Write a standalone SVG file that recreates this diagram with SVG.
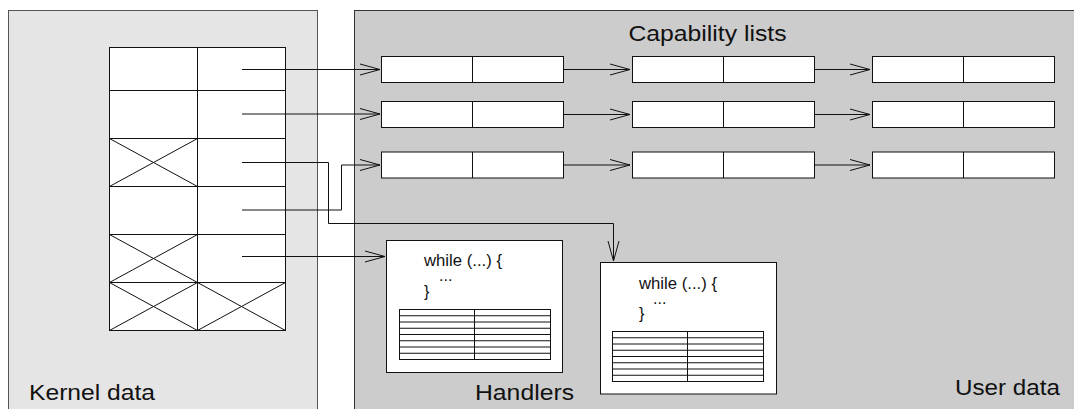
<svg xmlns="http://www.w3.org/2000/svg" width="1074" height="409" viewBox="0 0 1074 409">
  <style>
    .panel-k { fill: #e5e5e5; stroke: #555; stroke-width: 1; }
    .panel-u { fill: #cccccc; stroke: #333; stroke-width: 1; }
    .cell { fill: #fff; stroke: #111; stroke-width: 1; }
    .ln { fill: none; stroke: #111; stroke-width: 1; }
    .conn { fill: none; stroke: #111; stroke-width: 1; marker-end: url(#open); }
    .label { font-family: "Liberation Sans", Arial, sans-serif; font-size: 22px; fill: #111; }
    .code { font-family: "Liberation Sans", Arial, sans-serif; font-size: 16px; fill: #111; }
  </style>
  <defs>
    <marker id="open" markerUnits="userSpaceOnUse" markerWidth="24" markerHeight="14" viewBox="-21 -7 22 14" refX="0" refY="0" orient="auto" overflow="visible">
      <path d="M-20,-5.5 L0,0 L-20,5.5" fill="none" stroke="#111" stroke-width="1"/>
    </marker>
    <!-- table of 8 rows used inside each handler -->
    <g id="handler-table">
      <rect x="0" y="0" width="151" height="50" class="cell"/>
      <path class="ln" d="M75,0 V50 M0,6.25 H151 M0,12.5 H151 M0,18.75 H151 M0,25 H151 M0,31.25 H151 M0,37.5 H151 M0,43.75 H151"/>
    </g>
    <g id="cap-entry">
      <rect x="0" y="0" width="182" height="26" class="cell"/>
      <path class="ln" d="M91,0 V26"/>
    </g>
  </defs>

  <!-- address spaces -->
  <g id="kernel-panel">
    <rect x="8.5" y="10.5" width="309" height="420" class="panel-k"/>
    <text class="label" x="29" y="400" textLength="126" lengthAdjust="spacingAndGlyphs">Kernel data</text>
  </g>
  <g id="user-panel">
    <rect x="354.5" y="10.5" width="730" height="420" class="panel-u"/>
    <text class="label" x="628.5" y="40.5" textLength="158" lengthAdjust="spacingAndGlyphs">Capability lists</text>
    <text class="label" x="475" y="400" textLength="99" lengthAdjust="spacingAndGlyphs">Handlers</text>
    <text class="label" x="955" y="395" textLength="105" lengthAdjust="spacingAndGlyphs">User data</text>
  </g>

  <!-- kernel capability table -->
  <g id="kernel-table">
    <rect x="109.5" y="47.5" width="176" height="283" class="cell"/>
    <path class="ln" d="M197.5,47.5 V330.5 M109.5,90.5 H285.5 M109.5,138.5 H285.5 M109.5,186.5 H285.5 M109.5,234.5 H285.5 M109.5,282.5 H285.5"/>
    <!-- unused slots -->
    <path class="ln" d="M109.5,138.5 L197.5,186.5 M197.5,138.5 L109.5,186.5"/>
    <path class="ln" d="M109.5,234.5 L197.5,282.5 M197.5,234.5 L109.5,282.5"/>
    <path class="ln" d="M109.5,282.5 L197.5,330.5 M197.5,282.5 L109.5,330.5 M197.5,282.5 L285.5,330.5 M285.5,282.5 L197.5,330.5"/>
  </g>

  <!-- capability lists -->
  <g id="cap-row-1">
    <use href="#cap-entry" x="381.5" y="56.5"/>
    <use href="#cap-entry" x="632.5" y="56.5"/>
    <use href="#cap-entry" x="872.5" y="56.5"/>
  </g>
  <g id="cap-row-2">
    <use href="#cap-entry" x="381.5" y="101.5"/>
    <use href="#cap-entry" x="632.5" y="101.5"/>
    <use href="#cap-entry" x="872.5" y="101.5"/>
  </g>
  <g id="cap-row-3">
    <use href="#cap-entry" x="381.5" y="152"/>
    <use href="#cap-entry" x="632.5" y="152"/>
    <use href="#cap-entry" x="872.5" y="152"/>
  </g>

  <!-- handlers -->
  <g id="handler-1">
    <rect x="386.5" y="240.5" width="176" height="132" class="cell"/>
    <text class="code" x="424" y="266" textLength="78" lengthAdjust="spacingAndGlyphs">while (...) {</text>
    <text class="code" x="439" y="281">...</text>
    <text class="code" x="424" y="297">}</text>
    <use href="#handler-table" x="399.5" y="309.5"/>
  </g>
  <g id="handler-2">
    <rect x="600.5" y="262.5" width="176" height="131.5" class="cell"/>
    <text class="code" x="639" y="288.5" textLength="78" lengthAdjust="spacingAndGlyphs">while (...) {</text>
    <text class="code" x="653" y="303.5">...</text>
    <text class="code" x="639" y="319">}</text>
    <use href="#handler-table" x="612.5" y="331.5"/>
  </g>

  <!-- pointers -->
  <g id="connectors">
    <path class="conn" d="M242,69.5 H380"/>
    <path class="conn" d="M242,114 H380"/>
    <path class="conn" d="M242,162.5 H328.5 V223.5 H613.5 V261"/>
    <path class="conn" d="M242,210 H341.5 V165 H380"/>
    <path class="conn" d="M242,256.5 H385"/>
    <path class="conn" d="M563.5,69.5 H630"/>
    <path class="conn" d="M563.5,114.5 H630"/>
    <path class="conn" d="M563.5,165 H630"/>
    <path class="conn" d="M814.5,69.5 H870"/>
    <path class="conn" d="M814.5,114.5 H870"/>
    <path class="conn" d="M814.5,165 H870"/>
  </g>
</svg>
